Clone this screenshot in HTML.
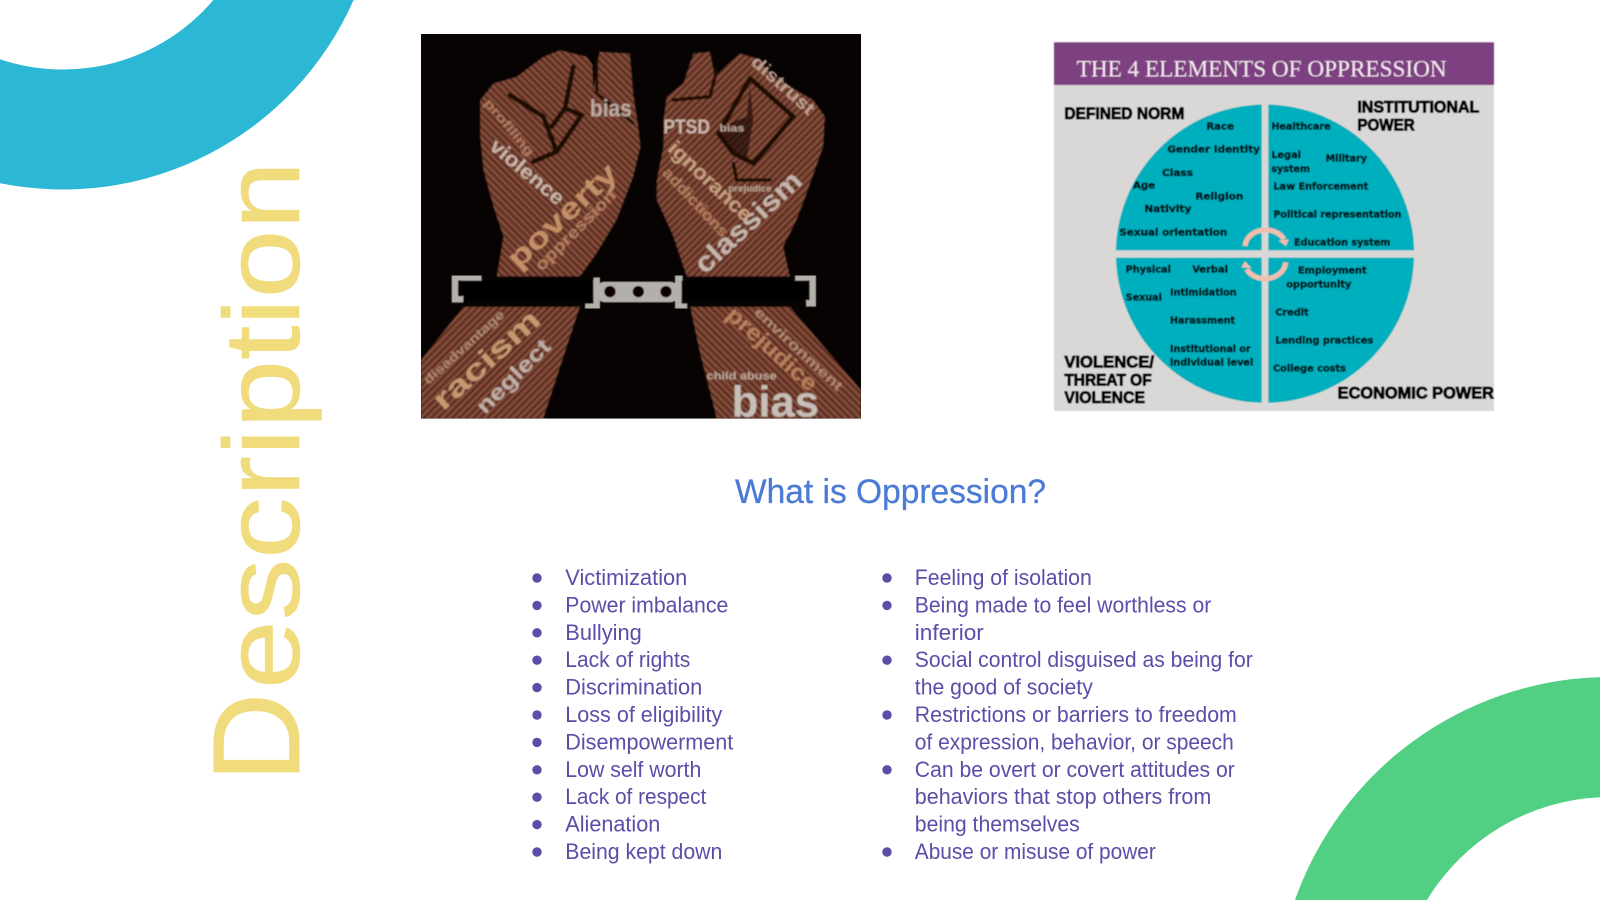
<!DOCTYPE html>
<html><head><meta charset="utf-8"><title>Description</title>
<style>html,body{margin:0;padding:0;background:#fff;width:1600px;height:900px;overflow:hidden}svg{display:block}</style></head>
<body>
<svg xmlns="http://www.w3.org/2000/svg" width="1600" height="900" viewBox="0 0 1600 900">
<defs>
<filter id="b1" x="-5%" y="-5%" width="110%" height="110%"><feGaussianBlur stdDeviation="2.2"/></filter>
<filter id="b2" x="-5%" y="-5%" width="110%" height="110%"><feGaussianBlur stdDeviation="1.2"/></filter>
<clipPath id="photo"><rect x="63" y="42" width="1320" height="1154"/></clipPath>
<pattern id="st1" width="15" height="15" patternUnits="userSpaceOnUse" patternTransform="rotate(45)">
<rect width="15" height="15" fill="#6d3a2c"/><rect width="15" height="5" fill="#8d523d"/><rect y="9" width="15" height="3" fill="#43201a"/></pattern>
<pattern id="st2" width="15" height="15" patternUnits="userSpaceOnUse" patternTransform="rotate(-45)">
<rect width="15" height="15" fill="#6d3a2c"/><rect width="15" height="5" fill="#8d523d"/><rect y="9" width="15" height="3" fill="#43201a"/></pattern>
</defs>
<rect width="1600" height="900" fill="#fff"/>

<!-- decorative arcs -->
<path fill="#2cb8d5" d="M0,59.2 A197.5,197.5 0 0 0 213.4,0 L353.6,0 A317.5,317.5 0 0 1 0,183.2 Z"/>
<path fill="#51d083" d="M1295,900 A334,334 0 0 1 1600,677.15 L1600,797.23 A214,214 0 0 0 1427,900 Z"/>

<!-- vertical title -->
<g font-family="'Liberation Sans',sans-serif" fill="#f0db7d">
<text transform="translate(299,782) rotate(-90)" font-size="123" textLength="89" lengthAdjust="spacingAndGlyphs" stroke="#f0db7d" stroke-width="1">D</text>
<text transform="translate(299,689) rotate(-90)" font-size="108" textLength="528" lengthAdjust="spacingAndGlyphs" stroke="#f0db7d" stroke-width=".6">escription</text>
</g>

<!-- photo -->
<g transform="translate(400,20) scale(.33333)">
<g clip-path="url(#photo)">
<rect x="63" y="42" width="1320" height="1154" fill="#060302"/>
<g filter="url(#b1)">
<path fill="url(#st1)" d="M240,240 L280,190 L350,170 L430,110 L480,90 L560,110 L578,135 L580,210 L598,95 L690,100 L700,220 L715,320 L722,380 L700,470 L650,600 L590,700 L540,770 L290,770 L310,650 L280,560 L250,450 L240,350Z"/>
<path fill="url(#st2)" d="M800,230 L850,190 L880,100 L930,95 L945,170 L985,130 L1020,100 L1070,115 L1120,170 L1240,240 L1275,290 L1270,380 L1220,520 L1190,600 L1150,680 L1170,770 L860,770 L820,650 L770,540 L770,480 L790,380 L790,300Z"/>
<path fill="url(#st2)" d="M63,1020 L190,860 L540,860 L430,1196 L63,1196Z"/>
<path fill="url(#st1)" d="M870,860 L1170,860 L1383,1110 L1383,1196 L950,1196 L900,1000Z"/>
<g fill="none" stroke="#1c0806" stroke-width="14" stroke-linecap="round">
<path d="M330,225 L430,290 L470,395 L400,425"/><path d="M520,140 L495,265 L455,320"/><path d="M495,265 L545,285 L470,395"/><path d="M590,120 L590,220 L700,310" stroke-width="9"/>
<path d="M955,340 L1050,175 L1180,290 L1060,430 L1000,400 L955,340"/><path d="M950,150 L930,230 L820,240" stroke-width="10"/><path d="M1000,430 L1010,480 L1110,480" stroke-width="10"/>
</g>
<path fill="#1c0806" d="M1050,200 L1040,290 L990,310 L965,340 L1000,400 L1040,420 L1060,300Z" opacity=".65"/>
<g font-family="'Liberation Sans',sans-serif" font-weight="bold">
<text transform="translate(570,290)" font-size="72" fill="#b9aca4" textLength="125" lengthAdjust="spacingAndGlyphs">bias</text>
<text transform="translate(790,340)" font-size="60" fill="#cbb8ac" textLength="140" lengthAdjust="spacingAndGlyphs">PTSD</text>
<text transform="translate(958,335)" font-size="30" fill="#bfa89b" textLength="75" lengthAdjust="spacingAndGlyphs">bias</text>
<text transform="translate(250,250) rotate(50)" font-size="40" fill="#b07a60" textLength="210" lengthAdjust="spacingAndGlyphs">profiling</text>
<text transform="translate(265,385) rotate(40)" font-size="62" fill="#c9b5a8" textLength="270" lengthAdjust="spacingAndGlyphs">violence</text>
<text transform="translate(355,750) rotate(-43)" font-size="88" fill="#c49068" textLength="415" lengthAdjust="spacingAndGlyphs">poverty</text>
<text transform="translate(425,755) rotate(-45)" font-size="50" fill="#b57f60" textLength="320" lengthAdjust="spacingAndGlyphs">oppression</text>
<text transform="translate(915,765) rotate(-43)" font-size="84" fill="#c4b5ac" textLength="405" lengthAdjust="spacingAndGlyphs">classism</text>
<text transform="translate(800,390) rotate(43)" font-size="62" fill="#c8a080" textLength="320" lengthAdjust="spacingAndGlyphs">ignorance</text>
<text transform="translate(785,460) rotate(47)" font-size="46" fill="#b57f60" textLength="265" lengthAdjust="spacingAndGlyphs">addictions</text>
<text transform="translate(1050,130) rotate(42)" font-size="54" fill="#c0a090" textLength="235" lengthAdjust="spacingAndGlyphs">distrust</text>
<text transform="translate(130,1175) rotate(-42)" font-size="88" fill="#c49a70" textLength="400" lengthAdjust="spacingAndGlyphs">racism</text>
<text transform="translate(255,1185) rotate(-45)" font-size="66" fill="#c0b0a8" textLength="285" lengthAdjust="spacingAndGlyphs">neglect</text>
<text transform="translate(85,1095) rotate(-42)" font-size="38" fill="#b08a70" textLength="310" lengthAdjust="spacingAndGlyphs">disadvantage</text>
<text transform="translate(995,1190)" font-size="132" fill="#c8bfb8" textLength="262" lengthAdjust="spacingAndGlyphs">bias</text>
<text transform="translate(920,1078)" font-size="32" fill="#c0a898" textLength="210" lengthAdjust="spacingAndGlyphs">child abuse</text>
<text transform="translate(985,515)" font-size="28" fill="#c0a898" textLength="130" lengthAdjust="spacingAndGlyphs">prejudice</text>
<text transform="translate(975,890) rotate(42)" font-size="68" fill="#b8805c" textLength="340" lengthAdjust="spacingAndGlyphs">prejudice</text>
<text transform="translate(1060,880) rotate(43)" font-size="42" fill="#b08a70" textLength="345" lengthAdjust="spacingAndGlyphs">environment</text>
</g>
</g>
<g filter="url(#b2)">
<rect x="185" y="780" width="400" height="62" fill="#050202"/>
<rect x="845" y="780" width="377" height="62" fill="#050202"/>
<g fill="none" stroke="#b3afab" stroke-width="20">
<path d="M245,772 H165 V838 H190"/>
<path d="M1185,772 H1238 V850 H1218"/>
<path d="M590,772 V860 H555"/>
<path d="M848,772 H835 V860 H862"/>
</g>
<rect x="590" y="785" width="245" height="62" rx="24" fill="#b3afab"/>
<circle cx="630" cy="815" r="17" fill="#0a0605"/><circle cx="715" cy="815" r="17" fill="#0a0605"/><circle cx="798" cy="815" r="17" fill="#0a0605"/>
</g>
</g>
</g>

<!-- oppression chart -->
<g transform="translate(1040,30) scale(.33333)">
<g filter="url(#b2)">
<rect x="42" y="37" width="1320" height="1106" fill="#d9d8d6"/>
<rect x="42" y="37" width="1320" height="128" fill="#7d3f80"/>
<circle cx="675" cy="671" r="447.5" fill="#00afbd"/>
<rect x="665" y="200" width="20" height="940" fill="#d9d8d6"/>
<rect x="210" y="661" width="930" height="22" fill="#d9d8d6"/>
<g fill="none" stroke="#f2bfae" stroke-width="15">
<path d="M615,648 A62,52 0 0 1 732,628"/>
<path d="M737,697 A62,52 0 0 1 620,718"/>
</g>
<path fill="#f2bfae" d="M746,628 L738,648 L716,632Z"/><path fill="#f2bfae" d="M604,712 L615,694 L634,714Z"/>
<text x="110" y="140" font-family="'Liberation Serif',serif" font-size="70" fill="#f3e9ef" textLength="1110" lengthAdjust="spacingAndGlyphs">THE 4 ELEMENTS OF OPPRESSION</text>
<g font-family="'Liberation Sans',sans-serif" font-weight="700" font-size="51" fill="#000" stroke="#000" stroke-width="3">
<text x="73" y="267" textLength="360" lengthAdjust="spacingAndGlyphs">DEFINED NORM</text>
<text x="952" y="248" textLength="366" lengthAdjust="spacingAndGlyphs">INSTITUTIONAL</text>
<text x="952" y="302" textLength="172" lengthAdjust="spacingAndGlyphs">POWER</text>
<text x="73" y="1012" textLength="269" lengthAdjust="spacingAndGlyphs">VIOLENCE/</text>
<text x="73" y="1066" textLength="262" lengthAdjust="spacingAndGlyphs">THREAT OF</text>
<text x="73" y="1119" textLength="242" lengthAdjust="spacingAndGlyphs">VIOLENCE</text>
<text x="893" y="1105" textLength="469" lengthAdjust="spacingAndGlyphs">ECONOMIC POWER</text>
</g>
<g font-family="'DejaVu Sans',sans-serif" font-weight="700" font-size="28" fill="#04181d" stroke="#04181d" stroke-width="1.5">
<text x="499" y="298" textLength="83" lengthAdjust="spacingAndGlyphs">Race</text>
<text x="382" y="368" textLength="278" lengthAdjust="spacingAndGlyphs">Gender Identity</text>
<text x="366" y="438" textLength="93" lengthAdjust="spacingAndGlyphs">Class</text>
<text x="279" y="476" textLength="66" lengthAdjust="spacingAndGlyphs">Age</text>
<text x="466" y="508" textLength="144" lengthAdjust="spacingAndGlyphs">Religion</text>
<text x="313" y="546" textLength="141" lengthAdjust="spacingAndGlyphs">Nativity</text>
<text x="238" y="616" textLength="324" lengthAdjust="spacingAndGlyphs">Sexual orientation</text>
<text x="694" y="299" textLength="178" lengthAdjust="spacingAndGlyphs">Healthcare</text>
<text x="694" y="384" textLength="89" lengthAdjust="spacingAndGlyphs">Legal</text>
<text x="694" y="426" textLength="116" lengthAdjust="spacingAndGlyphs">system</text>
<text x="857" y="395" textLength="124" lengthAdjust="spacingAndGlyphs">Military</text>
<text x="700" y="479" textLength="285" lengthAdjust="spacingAndGlyphs">Law Enforcement</text>
<text x="700" y="563" textLength="384" lengthAdjust="spacingAndGlyphs">Political representation</text>
<text x="762" y="647" textLength="289" lengthAdjust="spacingAndGlyphs">Education system</text>
<text x="257" y="727" textLength="136" lengthAdjust="spacingAndGlyphs">Physical</text>
<text x="457" y="727" textLength="107" lengthAdjust="spacingAndGlyphs">Verbal</text>
<text x="774" y="730" textLength="206" lengthAdjust="spacingAndGlyphs">Employment</text>
<text x="739" y="772" textLength="195" lengthAdjust="spacingAndGlyphs">opportunity</text>
<text x="257" y="811" textLength="109" lengthAdjust="spacingAndGlyphs">Sexual</text>
<text x="390" y="797" textLength="200" lengthAdjust="spacingAndGlyphs">Intimidation</text>
<text x="706" y="856" textLength="100" lengthAdjust="spacingAndGlyphs">Credit</text>
<text x="390" y="881" textLength="195" lengthAdjust="spacingAndGlyphs">Harassment</text>
<text x="706" y="941" textLength="294" lengthAdjust="spacingAndGlyphs">Lending practices</text>
<text x="390" y="966" textLength="242" lengthAdjust="spacingAndGlyphs">Institutional or</text>
<text x="390" y="1007" textLength="250" lengthAdjust="spacingAndGlyphs">individual level</text>
<text x="699" y="1025" textLength="219" lengthAdjust="spacingAndGlyphs">College costs</text>
</g>
</g>
</g>

<!-- heading -->
<text x="735" y="503" font-family="'Liberation Sans',sans-serif" font-size="34" fill="#4a7bd6" stroke="#4a7bd6" stroke-width=".3" textLength="311" lengthAdjust="spacingAndGlyphs">What is Oppression?</text>

<!-- lists -->
<g fill="#5f4ba8">
<circle cx="537" cy="578" r="4.7"/><circle cx="537" cy="605.4" r="4.7"/><circle cx="537" cy="632.8" r="4.7"/><circle cx="537" cy="660.2" r="4.7"/><circle cx="537" cy="687.6" r="4.7"/><circle cx="537" cy="715" r="4.7"/><circle cx="537" cy="742.4" r="4.7"/><circle cx="537" cy="769.8" r="4.7"/><circle cx="537" cy="797.2" r="4.7"/><circle cx="537" cy="824.6" r="4.7"/><circle cx="537" cy="852" r="4.7"/>
<circle cx="887" cy="578" r="4.7"/><circle cx="887" cy="605.4" r="4.7"/><circle cx="887" cy="660.2" r="4.7"/><circle cx="887" cy="715" r="4.7"/><circle cx="887" cy="769.8" r="4.7"/><circle cx="887" cy="852" r="4.7"/>
</g>
<g font-family="'Liberation Sans',sans-serif" font-size="22" fill="#5f4ba8">
<text x="565.3" y="585" textLength="122" lengthAdjust="spacingAndGlyphs">Victimization</text>
<text x="565.3" y="612.4" textLength="163" lengthAdjust="spacingAndGlyphs">Power imbalance</text>
<text x="565.3" y="639.8" textLength="76.5" lengthAdjust="spacingAndGlyphs">Bullying</text>
<text x="565.3" y="667.2" textLength="125" lengthAdjust="spacingAndGlyphs">Lack of rights</text>
<text x="565.3" y="694.6" textLength="137" lengthAdjust="spacingAndGlyphs">Discrimination</text>
<text x="565.3" y="722" textLength="157" lengthAdjust="spacingAndGlyphs">Loss of eligibility</text>
<text x="565.3" y="749.4" textLength="168" lengthAdjust="spacingAndGlyphs">Disempowerment</text>
<text x="565.3" y="776.8" textLength="136" lengthAdjust="spacingAndGlyphs">Low self worth</text>
<text x="565.3" y="804.2" textLength="141" lengthAdjust="spacingAndGlyphs">Lack of respect</text>
<text x="565.3" y="831.6" textLength="95" lengthAdjust="spacingAndGlyphs">Alienation</text>
<text x="565.3" y="859" textLength="157" lengthAdjust="spacingAndGlyphs">Being kept down</text>
<text x="914.8" y="585" textLength="177" lengthAdjust="spacingAndGlyphs">Feeling of isolation</text>
<text x="914.8" y="612.4" textLength="296.5" lengthAdjust="spacingAndGlyphs">Being made to feel worthless or</text>
<text x="914.8" y="639.8" textLength="69" lengthAdjust="spacingAndGlyphs">inferior</text>
<text x="914.8" y="667.2" textLength="338" lengthAdjust="spacingAndGlyphs">Social control disguised as being for</text>
<text x="914.8" y="694.6" textLength="178" lengthAdjust="spacingAndGlyphs">the good of society</text>
<text x="914.8" y="722" textLength="322" lengthAdjust="spacingAndGlyphs">Restrictions or barriers to freedom</text>
<text x="914.8" y="749.4" textLength="319" lengthAdjust="spacingAndGlyphs">of expression, behavior, or speech</text>
<text x="914.8" y="776.8" textLength="320" lengthAdjust="spacingAndGlyphs">Can be overt or covert attitudes or</text>
<text x="914.8" y="804.2" textLength="296.5" lengthAdjust="spacingAndGlyphs">behaviors that stop others from</text>
<text x="914.8" y="831.6" textLength="165" lengthAdjust="spacingAndGlyphs">being themselves</text>
<text x="914.8" y="859" textLength="241" lengthAdjust="spacingAndGlyphs">Abuse or misuse of power</text>
</g>
</svg>
</body></html>
